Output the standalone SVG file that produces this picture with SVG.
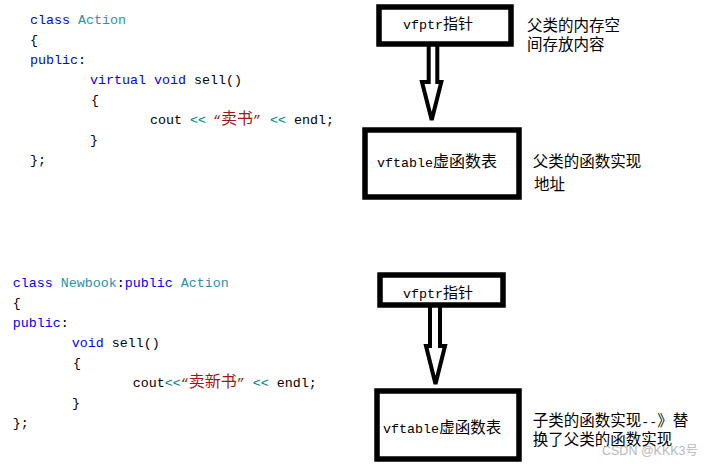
<svg xmlns="http://www.w3.org/2000/svg" width="711" height="464" viewBox="0 0 711 464">
<style>
.code{font-family:"Liberation Mono","DejaVu Sans Mono",monospace;font-size:13.333px;fill:#000}
.kw{fill:#0000ff}
.ty{fill:#2b91af}
.op{fill:#008080}
.str{fill:#a31515}
.cjk{font-family:"Noto Sans CJK SC",sans-serif;font-size:16px}
.box{fill:#fff;stroke:#000;stroke-width:5.5}
.note{font-family:"Noto Sans CJK SC",sans-serif;font-size:15.5px;fill:#000}
.arrow{fill:none;stroke:#000;stroke-width:4;stroke-linejoin:miter}
.wm{font-family:"Liberation Sans","Noto Sans CJK SC",sans-serif;font-size:12.5px;fill:#b8b8b8}
</style>
<rect width="711" height="464" fill="#fff"/>

<g id="code-action" class="code">
<text x="30" y="24"><tspan class="kw">class</tspan> <tspan class="ty">Action</tspan></text>
<text x="30" y="44">{</text>
<text x="30" y="64"><tspan class="kw">public</tspan>:</text>
<text x="90" y="84"><tspan class="kw">virtual</tspan> <tspan class="kw">void</tspan> sell()</text>
<text x="91" y="104">{</text>
<text y="124"><tspan x="150">cout</tspan><tspan x="190" class="op">&lt;&lt;</tspan><tspan x="213" class="str">“</tspan><tspan x="221" class="str cjk">卖书</tspan><tspan x="253" class="str">”</tspan><tspan x="270" class="op">&lt;&lt;</tspan><tspan x="294">endl;</tspan></text>
<text x="90" y="144">}</text>
<text x="30" y="164">};</text>
</g>

<g id="code-newbook" class="code">
<text x="12.7" y="286.5"><tspan class="kw">class</tspan> <tspan class="ty">Newbook</tspan>:<tspan class="kw">public</tspan> <tspan class="ty">Action</tspan></text>
<text x="12.7" y="306.5">{</text>
<text x="12.7" y="326.5"><tspan class="kw">public</tspan>:</text>
<text x="71.7" y="346.5"><tspan class="kw">void</tspan> sell()</text>
<text x="73" y="366.5">{</text>
<text y="386.5"><tspan x="132.7">cout</tspan><tspan x="164.7" class="op">&lt;&lt;</tspan><tspan x="180.7" class="str">“</tspan><tspan x="188.7" class="str cjk">卖新书</tspan><tspan x="236.7" class="str">”</tspan><tspan x="252.7" class="op">&lt;&lt;</tspan><tspan x="276.7">endl;</tspan></text>
<text x="72" y="406.5">}</text>
<text x="12.7" y="426.5">};</text>
</g>

<g id="connectors">
<path class="arrow" d="M428.7,45 V82 H422 L431.7,120 L441.3,82 H437.3 V45"/>
<path class="arrow" d="M430,306 V346 H426 L435.5,384 L445,346 H440 V306"/>
</g>

<g id="node-vfptr-1">
<rect class="box" x="379" y="7" width="132" height="37"/>
<text class="code" x="403" y="29">vfptr<tspan x="443" class="cjk" style="font-size:15px">指针</tspan></text>
</g>

<g id="node-vftable-1">
<rect class="box" x="365" y="130" width="154" height="67"/>
<text class="code" x="377" y="167">vftable<tspan x="433" class="cjk">虚函数表</tspan></text>
</g>

<g id="node-vfptr-2">
<rect class="box" x="380" y="275" width="123" height="30"/>
<text class="code" x="403" y="298">vfptr<tspan x="443" class="cjk" style="font-size:15px">指针</tspan></text>
</g>

<g id="node-vftable-2">
<rect class="box" x="377" y="391" width="142" height="68"/>
<text class="code" x="383" y="433">vftable<tspan x="439.3" class="cjk" style="font-size:15.5px">虚函数表</tspan></text>
</g>

<g id="notes">
<text class="note" x="527" y="30.6">父类的内存空</text>
<text class="note" x="527" y="49.5">间存放内容</text>
<text class="note" x="532.7" y="166.5">父类的函数实现</text>
<text class="note" x="534" y="189.5">地址</text>
<text class="note" x="532.7" y="426">子类的函数实现<tspan style="font-family:'Liberation Mono',monospace;font-size:13.333px">--</tspan>》替</text>
<text class="note" x="532.7" y="445">换了父类的函数实现</text>
</g>

<text class="wm" x="602" y="455">CSDN @KKK3号</text>
</svg>
